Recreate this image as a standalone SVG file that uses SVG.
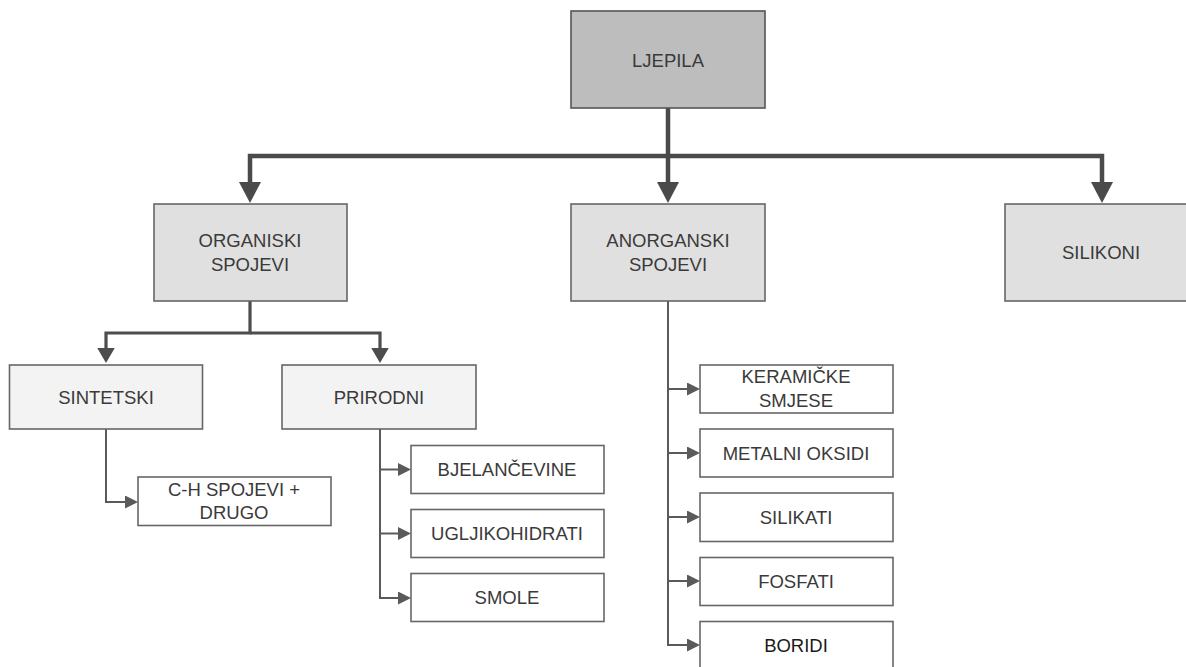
<svg xmlns="http://www.w3.org/2000/svg" width="1186" height="667" viewBox="0 0 1186 667">
<style>
  .box{stroke:#666;stroke-width:1.6}
  .l0{fill:#bdbdbd;stroke:#555}
  .l1{fill:#e0e0e0}
  .l2{fill:#f3f3f3}
  .leaf{fill:#fff}
  text{font-family:"Liberation Sans",Arial,sans-serif;font-size:18.5px;fill:#3a3a3a;text-anchor:middle}
  .dark{fill:#1a1a1a}
  .c0{fill:none;stroke:#4a4a4a;stroke-width:4.5;stroke-linejoin:miter}
  .c1{fill:none;stroke:#4d4d4d;stroke-width:3.2}
  .c2{fill:none;stroke:#5a5a5a;stroke-width:2}
</style>
<defs>
  <marker id="a0" markerUnits="userSpaceOnUse" markerWidth="22" markerHeight="22" refX="3" refY="11" orient="auto" viewBox="0 0 22 22">
    <path d="M0,0 L21,11 L0,22 Z" fill="#4a4a4a"/>
  </marker>
  <marker id="a1" markerUnits="userSpaceOnUse" markerWidth="16" markerHeight="18" refX="2" refY="8.75" orient="auto" viewBox="0 0 16 18">
    <path d="M0,0 L15,8.75 L0,17.5 Z" fill="#4d4d4d"/>
  </marker>
  <marker id="a2" markerUnits="userSpaceOnUse" markerWidth="14" markerHeight="13" refX="2" refY="6.5" orient="auto" viewBox="0 0 14 13">
    <path d="M0,0 L13,6.5 L0,13 Z" fill="#5a5a5a"/>
  </marker>
</defs>
<rect width="1186" height="667" fill="#fff"/>
<g id="connectors">
  <path class="c0" d="M668,108 V185" marker-end="url(#a0)"/>
  <path class="c0" d="M668,156 H250 V185" marker-end="url(#a0)"/>
  <path class="c0" d="M668,156 H1102 V185" marker-end="url(#a0)"/>
  <path class="c1" d="M250,301 V333 H106 V350" marker-end="url(#a1)"/>
  <path class="c1" d="M250,333 H380 V350" marker-end="url(#a1)"/>
  <path class="c2" d="M106,429 V502 H127" marker-end="url(#a2)"/>
  <path class="c2" d="M380,429 V598 H400" marker-end="url(#a2)"/>
  <path class="c2" d="M380,469.5 H400" marker-end="url(#a2)"/>
  <path class="c2" d="M380,533.5 H400" marker-end="url(#a2)"/>
  <path class="c2" d="M668,301 V645 H689" marker-end="url(#a2)"/>
  <path class="c2" d="M668,389 H689" marker-end="url(#a2)"/>
  <path class="c2" d="M668,453 H689" marker-end="url(#a2)"/>
  <path class="c2" d="M668,517 H689" marker-end="url(#a2)"/>
  <path class="c2" d="M668,581 H689" marker-end="url(#a2)"/>
</g>
<g id="ljepila"><rect class="box l0" x="571" y="11" width="194" height="97"/><text x="668" y="67">LJEPILA</text></g>
<g id="organiski"><rect class="box l1" x="154" y="204" width="193" height="97"/><text x="250" y="247">ORGANISKI</text><text x="250" y="271">SPOJEVI</text></g>
<g id="anorganski"><rect class="box l1" x="571" y="204" width="194" height="97"/><text x="668" y="247">ANORGANSKI</text><text x="668" y="271">SPOJEVI</text></g>
<g id="silikoni"><rect class="box l1" x="1005" y="204" width="193" height="97"/><text x="1101" y="259">SILIKONI</text></g>
<g id="sintetski"><rect class="box l2" x="9.5" y="365" width="193" height="64"/><text x="106" y="404">SINTETSKI</text></g>
<g id="prirodni"><rect class="box l2" x="282" y="365" width="194" height="64"/><text x="379" y="404">PRIRODNI</text></g>
<g id="ch"><rect class="box leaf" x="138" y="477" width="193" height="48.5"/><text x="234" y="495.5">C-H SPOJEVI +</text><text x="234" y="519">DRUGO</text></g>
<g id="bjelancevine"><rect class="box leaf" x="411" y="445.5" width="193" height="48"/><text x="507" y="476">BJELANČEVINE</text></g>
<g id="ugljikohidrati"><rect class="box leaf" x="411" y="509.5" width="193" height="48"/><text x="507" y="540">UGLJIKOHIDRATI</text></g>
<g id="smole"><rect class="box leaf" x="411" y="573.5" width="193" height="48"/><text x="507" y="604">SMOLE</text></g>
<g id="keramicke"><rect class="box leaf" x="700" y="365" width="193" height="48"/><text x="796" y="383">KERAMIČKE</text><text x="796" y="406.5">SMJESE</text></g>
<g id="metalni"><rect class="box leaf" x="700" y="429" width="193" height="48"/><text x="796" y="460">METALNI OKSIDI</text></g>
<g id="silikati"><rect class="box leaf" x="700" y="493" width="193" height="48.5"/><text x="796" y="524">SILIKATI</text></g>
<g id="fosfati"><rect class="box leaf" x="700" y="557.5" width="193" height="48"/><text x="796" y="588">FOSFATI</text></g>
<g id="boridi"><rect class="box leaf" x="700" y="621.5" width="193" height="60"/><text class="dark" x="796" y="652">BORIDI</text></g>
</svg>
